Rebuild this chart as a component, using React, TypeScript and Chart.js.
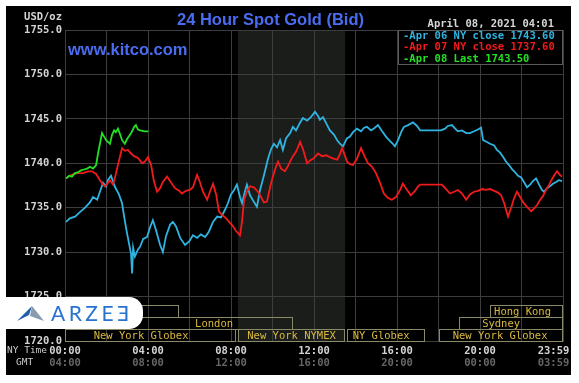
import React, { useEffect, useRef } from 'react';
import { Chart, registerables } from 'chart.js';

Chart.register(...registerables);

// ---------- data (minutes after 00:00 NY time, price USD/oz) ----------
const apr06Minutes = [3, 14, 29, 43, 58, 72, 81, 93, 101, 110, 119, 124, 133, 145, 156, 165, 171, 179, 185, 191, 194, 197, 202, 211, 217, 226, 237, 246, 254, 263, 275, 283, 292, 304, 312, 321, 333, 347, 359, 370, 382, 393, 405, 416, 428, 440, 451, 463, 471, 480, 489, 497, 506, 512, 520, 526, 535, 544, 555, 564, 575, 587, 596, 604, 613, 622, 630, 639, 651, 659, 668, 680, 688, 700, 711, 723, 732, 737, 746, 758, 766, 778, 787, 795, 804, 815, 824, 833, 844, 856, 865, 873, 885, 896, 905, 917, 928, 940, 948, 954, 963, 972, 980, 992, 1006, 1018, 1027, 1087, 1099, 1107, 1119, 1128, 1136, 1148, 1160, 1171, 1183, 1194, 1203, 1209, 1220, 1229, 1241, 1249, 1258, 1267, 1275, 1284, 1293, 1301, 1310, 1319, 1327, 1336, 1345, 1353, 1362, 1371, 1379, 1385, 1394, 1402, 1411, 1420, 1428, 1437];
const apr06Prices = [1733.4, 1733.8, 1734.0, 1734.5, 1735.0, 1735.6, 1736.2, 1735.9, 1736.8, 1737.8, 1737.4, 1738.1, 1738.6, 1737.3, 1736.5, 1735.5, 1734.0, 1732.2, 1731.0, 1729.8, 1727.6, 1730.5, 1729.5, 1730.3, 1730.6, 1731.5, 1731.7, 1732.8, 1733.6, 1732.5, 1730.8, 1730.0, 1731.8, 1733.1, 1733.4, 1732.9, 1731.6, 1730.8, 1731.2, 1731.9, 1731.6, 1732.0, 1731.7, 1732.3, 1733.4, 1734.0, 1733.9, 1734.8, 1735.5, 1736.5, 1737.0, 1737.6, 1736.2, 1735.5, 1736.8, 1737.6, 1736.4, 1735.8, 1735.1, 1737.0, 1738.6, 1740.5, 1741.6, 1742.2, 1741.8, 1742.6, 1741.5, 1742.8, 1743.4, 1744.1, 1743.7, 1744.6, 1745.1, 1744.8, 1745.2, 1745.8, 1745.3, 1744.9, 1745.2, 1744.3, 1743.7, 1743.2, 1742.6, 1742.2, 1741.9, 1742.8, 1743.0, 1743.5, 1743.9, 1743.6, 1744.0, 1744.1, 1743.7, 1744.0, 1744.3, 1743.6, 1743.0, 1742.5, 1742.2, 1741.9, 1742.6, 1743.5, 1744.1, 1744.3, 1744.6, 1744.2, 1743.7, 1743.7, 1743.9, 1744.2, 1744.3, 1743.9, 1743.6, 1743.7, 1743.4, 1743.4, 1743.6, 1743.8, 1744.0, 1742.6, 1742.4, 1742.2, 1742.0, 1741.5, 1741.2, 1740.7, 1740.2, 1739.8, 1739.3, 1739.0, 1738.6, 1738.4, 1737.9, 1737.3, 1737.6, 1738.0, 1738.3, 1737.6, 1737.0, 1736.8, 1737.2, 1737.4, 1737.7, 1737.9, 1738.1, 1738.0];

const apr07Minutes = [3, 14, 26, 38, 52, 67, 78, 90, 101, 110, 116, 124, 130, 139, 147, 156, 165, 173, 182, 191, 200, 211, 223, 231, 240, 249, 257, 266, 275, 283, 295, 307, 318, 330, 338, 350, 361, 370, 382, 390, 399, 411, 419, 428, 437, 445, 454, 466, 477, 486, 494, 506, 512, 518, 526, 535, 546, 558, 567, 575, 584, 593, 601, 610, 616, 625, 636, 645, 656, 668, 680, 688, 700, 708, 720, 732, 743, 755, 766, 778, 787, 795, 801, 810, 815, 824, 833, 844, 856, 865, 876, 888, 899, 911, 922, 934, 945, 957, 969, 977, 989, 1000, 1012, 1021, 1027, 1090, 1102, 1113, 1125, 1136, 1148, 1160, 1171, 1183, 1194, 1206, 1217, 1229, 1241, 1252, 1261, 1270, 1275, 1281, 1290, 1298, 1307, 1316, 1325, 1336, 1348, 1356, 1365, 1374, 1382, 1391, 1400, 1408, 1417, 1423, 1431, 1437];
const apr07Prices = [1738.3, 1738.6, 1738.8, 1738.9, 1738.9, 1739.1, 1739.1, 1738.8, 1738.1, 1737.6, 1737.4, 1737.8, 1738.1, 1737.6, 1738.8, 1740.3, 1741.7, 1741.4, 1741.5, 1741.1, 1740.8, 1740.6, 1740.0, 1740.2, 1740.7, 1739.8, 1738.0, 1736.8, 1737.2, 1737.9, 1738.5, 1737.8, 1737.2, 1736.9, 1736.6, 1736.9, 1737.0, 1737.3, 1738.7, 1737.9, 1736.8, 1735.9, 1736.8, 1737.7, 1736.5, 1734.6, 1734.2, 1733.8, 1733.3, 1732.9, 1732.4, 1731.9, 1733.5, 1735.9, 1736.8, 1737.4, 1737.3, 1736.8, 1736.2, 1735.6, 1735.7, 1737.3, 1738.5, 1739.6, 1740.2, 1739.4, 1739.1, 1739.7, 1740.6, 1741.3, 1742.4, 1741.6, 1740.0, 1740.3, 1740.6, 1741.1, 1740.8, 1740.9, 1740.7, 1740.5, 1740.4, 1741.0, 1741.7, 1740.8, 1740.2, 1739.9, 1739.8, 1740.5, 1741.7, 1740.9, 1740.0, 1739.6, 1738.9, 1737.8, 1736.6, 1736.1, 1735.9, 1736.2, 1737.0, 1737.7, 1737.0, 1736.4, 1736.9, 1737.4, 1737.6, 1737.6, 1737.1, 1736.6, 1736.8, 1737.0, 1736.6, 1735.9, 1736.5, 1736.8, 1736.9, 1737.1, 1737.0, 1737.1, 1736.9, 1736.7, 1736.4, 1735.5, 1734.8, 1734.0, 1735.0, 1736.0, 1736.8, 1736.2, 1735.6, 1735.1, 1734.6, 1734.9, 1735.3, 1735.9, 1736.3, 1737.0, 1737.6, 1738.2, 1738.8, 1739.1, 1738.7, 1738.5];

const apr08Minutes = [3, 12, 20, 29, 38, 46, 55, 64, 72, 81, 90, 95, 101, 107, 113, 119, 124, 130, 136, 142, 147, 153, 159, 165, 173, 179, 188, 194, 200, 205, 211, 217, 231, 241];
const apr08Prices = [1738.3, 1738.6, 1738.5, 1738.9, 1739.0, 1739.2, 1739.3, 1739.4, 1739.6, 1739.4, 1739.8, 1741.0, 1742.2, 1743.4, 1743.0, 1742.6, 1742.4, 1742.2, 1743.2, 1743.7, 1743.5, 1743.9, 1743.3, 1742.6, 1742.2, 1742.7, 1743.2, 1743.6, 1744.1, 1744.3, 1743.8, 1743.7, 1743.6, 1743.6];

const seriesLabels = ['Apr 06 NY close 1743.60', 'Apr 07 NY close 1737.60', 'Apr 08 Last 1743.50'];
const seriesColors = ['#2fb4e2', '#f21a1a', '#22e022'];

const nyTimeLabels = ['00:00', '04:00', '08:00', '12:00', '16:00', '20:00', '23:59'];
const gmtTimeLabels = ['04:00', '08:00', '12:00', '16:00', '20:00', '00:00', '03:59'];

const titleText = '24 Hour Spot Gold (Bid)';
const siteText = 'www.kitco.com';
const unitText = 'USD/oz';
const stampText = 'April 08, 2021 04:01';
const logoText = 'ARZEƎ';

// trading sessions (minutes, NY time)
const sessionNames = ['', 'Hong Kong', 'London', 'Sydney', 'New York Globex', 'New York NYMEX', 'NY Globex', 'New York Globex'];
const sessionStarts = [0, 1230, 180, 1140, 0, 500, 815, 1080];
const sessionEnds = [330, 1440, 660, 1440, 495, 810, 1041, 1440];
const sessionRows = [0, 0, 1, 1, 2, 2, 2, 2];
const sessionLabelAt = [165, 1323, 431, 1261, 220, 655, 914, 1258];
const nymexShade = [500, 810];

const MONO = '"DejaVu Sans Mono", "Liberation Mono", monospace';
const SANS = '"Liberation Sans", Arial, sans-serif';

// the last tick label sits flush against the right edge, like the original
const lastLabel = (t: string) => t + '   ';

const kitcoPlugin = {
  id: 'kitcoDecor',
  beforeDraw(chart: any) {
    const { ctx, chartArea, scales } = chart;
    ctx.save();
    ctx.fillStyle = '#ffffff';
    ctx.fillRect(0, 0, chart.width, chart.height);
    ctx.fillStyle = '#000000';
    ctx.fillRect(6, 6, 565, 369);
    const a = scales.x.getPixelForValue(nymexShade[0]);
    const b = scales.x.getPixelForValue(nymexShade[1]);
    ctx.fillStyle = '#1b1d1b';
    ctx.fillRect(a, chartArea.top, b - a, chartArea.bottom - chartArea.top);
    ctx.restore();
  },
  beforeDatasetsDraw(chart: any) {
    const { ctx, chartArea, scales } = chart;
    ctx.save();
    const rowH = 12;
    ctx.font = `10.5px ${MONO}`;
    ctx.textAlign = 'center';
    ctx.textBaseline = 'middle';
    for (let i = 0; i < sessionNames.length; i++) {
      const x1 = Math.round(scales.x.getPixelForValue(sessionStarts[i]));
      const x2 = Math.round(scales.x.getPixelForValue(sessionEnds[i]));
      const top = chartArea.bottom - (3 - sessionRows[i]) * rowH;
      ctx.strokeStyle = '#8a8a66';
      ctx.lineWidth = 1;
      ctx.strokeRect(x1 + 0.5, top + 0.5, x2 - x1 - 1, rowH);
      if (sessionNames[i]) {
        ctx.fillStyle = '#d9b93e';
        ctx.fillText(sessionNames[i], scales.x.getPixelForValue(sessionLabelAt[i]), top + rowH / 2 + 1);
      }
    }
    ctx.restore();
  },
  afterDraw(chart: any) {
    const { ctx, chartArea } = chart;
    ctx.save();
    // title & site
    ctx.fillStyle = '#4a6cf0';
    ctx.font = `bold 16.5px ${SANS}`;
    ctx.textAlign = 'center';
    ctx.textBaseline = 'alphabetic';
    ctx.fillText(titleText, 270.5, 25);
    ctx.font = `bold 16.5px ${SANS}`;
    ctx.textAlign = 'left';
    ctx.fillText(siteText, 68, 55);
    // unit & timestamp
    ctx.font = `bold 10.5px ${MONO}`;
    ctx.fillStyle = '#d6d6d6';
    ctx.textBaseline = 'middle';
    ctx.textAlign = 'right';
    ctx.fillText(unitText, 62, 17);
    ctx.fillText(stampText, 554, 24);
    // legend box
    const lx = 398;
    const ly = chartArea.top;
    const lw = chartArea.right - lx;
    ctx.fillStyle = '#000000';
    ctx.fillRect(lx, ly, lw, 35);
    ctx.strokeStyle = '#5a5a5a';
    ctx.lineWidth = 1;
    ctx.strokeRect(lx + 0.5, ly + 0.5, lw - 1, 34);
    ctx.textAlign = 'left';
    const rows = [36.5, 47.5, 59];
    for (let i = 0; i < seriesLabels.length; i++) {
      ctx.fillStyle = seriesColors[i];
      ctx.fillText('-' + seriesLabels[i], 403, rows[i]);
    }
    // axis captions
    ctx.font = `9.5px ${MONO}`;
    ctx.fillStyle = '#cccccc';
    ctx.fillText('NY Time', 7, 351);
    ctx.fillText('GMT', 16, 363);
    ctx.restore();
  },
};

export default function App() {
  const canvasRef = useRef<HTMLCanvasElement | null>(null);

  useEffect(() => {
    if (!canvasRef.current) return;
    const mk = (mins: number[], vals: number[]) => mins.map((m, i) => ({ x: m, y: vals[i] }));
    const chart = new Chart(canvasRef.current, {
      type: 'line',
      data: {
        datasets: [
          { label: seriesLabels[0], data: mk(apr06Minutes, apr06Prices), borderColor: seriesColors[0], borderWidth: 1.8, pointRadius: 0, tension: 0, order: 2 },
          { label: seriesLabels[1], data: mk(apr07Minutes, apr07Prices), borderColor: seriesColors[1], borderWidth: 1.8, pointRadius: 0, tension: 0, order: 1 },
          { label: seriesLabels[2], data: mk(apr08Minutes, apr08Prices), borderColor: seriesColors[2], borderWidth: 1.8, pointRadius: 0, tension: 0, order: 0 },
        ],
      },
      options: {
        responsive: false,
        animation: false,
        devicePixelRatio: 1,
        layout: { padding: { top: 30, right: 16, left: 0, bottom: 0 } },
        plugins: { legend: { display: false }, title: { display: false }, tooltip: { enabled: false } },
        scales: {
          x: {
            type: 'linear',
            position: 'bottom',
            min: 0,
            max: 1440,
            weight: 0,
            afterFit: (s: any) => { s.height = 15; s.paddingRight = 0; s.paddingLeft = 0; },
            grid: { color: '#3d3d3d', drawTicks: false },
            border: { color: '#3d3d3d' },
            ticks: {
              stepSize: 120,
              autoSkip: false,
              maxRotation: 0,
              padding: 4,
              color: '#d4d4d4',
              font: { family: MONO, size: 10.5, weight: 'bold' },
              callback: (v: any) => {
                const n = Number(v);
                if (n % 240 !== 0) return '';
                const t = nyTimeLabels[n / 240];
                return n === 1440 ? lastLabel(t) : t;
              },
            },
          },
          x2: {
            type: 'linear',
            position: 'bottom',
            min: 0,
            max: 1440,
            weight: 1,
            afterFit: (s: any) => { s.height = 27; s.paddingRight = 0; s.paddingLeft = 0; },
            grid: { display: false, drawTicks: false },
            border: { display: false },
            ticks: {
              stepSize: 240,
              autoSkip: false,
              maxRotation: 0,
              padding: 1,
              color: '#666666',
              font: { family: MONO, size: 10.5, weight: 'bold' },
              callback: (v: any) => {
                const n = Number(v);
                const t = gmtTimeLabels[n / 240];
                return n === 1440 ? lastLabel(t) : t;
              },
            },
          },
          y: {
            type: 'linear',
            min: 1720,
            max: 1755,
            afterFit: (s: any) => { s.width = 65; },
            grid: { color: '#3d3d3d', drawTicks: false },
            border: { color: '#3d3d3d' },
            ticks: {
              stepSize: 5,
              padding: 3,
              color: '#d4d4d4',
              font: { family: MONO, size: 10.5, weight: 'bold' },
              callback: (v: any) => Number(v).toFixed(1),
            },
          },
        },
      } as any,
      plugins: [kitcoPlugin],
    });
    return () => chart.destroy();
  }, []);

  return (
    <div style={{ position: 'absolute', left: 0, top: 0, width: 579, height: 383, background: '#fff', overflow: 'hidden' }}>
      <canvas ref={canvasRef} width={579} height={383} style={{ display: 'block' }} />
      <div
        style={{
          position: 'absolute',
          left: 6,
          top: 297,
          width: 137,
          height: 32,
          background: '#ffffff',
          borderRadius: '0 14px 14px 0',
          display: 'flex',
          alignItems: 'center',
        }}
      >
        <svg width={30} height={20} viewBox="0 0 30 20" style={{ marginLeft: 11 }}>
          <polygon points="0,18 15,3 12,12" fill="#1f5fa8" />
          <polygon points="15,3 27,18 13,13" fill="#8a9bb0" />
        </svg>
        <span
          style={{
            marginLeft: 4,
            fontFamily: 'Lato, "Open Sans", sans-serif',
            fontWeight: 400,
            fontSize: 21,
            letterSpacing: 3.5,
            color: '#2873cf',
            lineHeight: '20px',
          }}
        >
          {logoText}
        </span>
      </div>
    </div>
  );
}
